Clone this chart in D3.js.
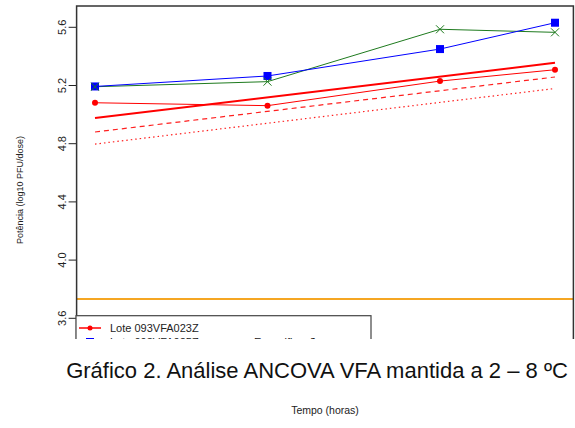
<!DOCTYPE html>
<html>
<head>
<meta charset="utf-8">
<script src="https://cdn.jsdelivr.net/npm/d3@7"></script>
<style>
  html, body { margin: 0; padding: 0; background: #fff; }
  svg { display: block; font-family: "Liberation Sans", Arial, sans-serif; }
</style>
</head>
<body>
<script>
// Sampling times (hours)
const times = [0, 3, 6, 8];

// Measured potency per lot (log10 PFU/dose)
const lot1 = [5.078, 5.058, 5.227, 5.305];   // Lote 093VFA023Z
const lot2 = [5.190, 5.262, 5.447, 5.628];   // second lot
const lot3 = [5.188, 5.223, 5.583, 5.562];   // third lot

// ANCOVA fit and lower bounds, given at first and last time
const fitTimes = [0, 8];
const fitLine = [4.973, 5.353];
const lowerConf = [4.877, 5.255];
const lowerPred = [4.794, 5.176];

// Specification limit
const specLimit = 3.73;

// Axis ticks
const yTicks = [3.6, 4.0, 4.4, 4.8, 5.2, 5.6];

const W = 575, H = 428;
const svg = d3.select("body").append("svg").attr("width", W).attr("height", H);

const x = d3.scaleLinear().domain([0, 8]).range([95, 555]);
const y = d3.scaleLinear().domain([3.6, 5.6]).range([317.8, 26.8]);

const plotLeft = x(-0.32), plotRight = x(8.32), plotTop = 6, clipBottom = 339;

svg.append("defs").append("clipPath").attr("id", "cut")
  .append("rect").attr("x", 0).attr("y", 0).attr("width", W).attr("height", clipBottom);
svg.append("defs").append("clipPath").attr("id", "plotArea")
  .append("rect").attr("x", plotLeft).attr("y", plotTop)
  .attr("width", plotRight - plotLeft).attr("height", 400);

const g = svg.append("g").attr("clip-path", "url(#cut)");

// Y axis with rotated tick labels
const yAxis = g.append("g").attr("transform", `translate(${plotLeft},0)`)
  .call(d3.axisLeft(y).tickValues(yTicks).tickFormat(d3.format(".1f")).tickSize(8).tickPadding(4));
yAxis.select(".domain").remove();
yAxis.selectAll(".tick line").attr("stroke", "#222");
yAxis.selectAll(".tick text")
  .attr("font-size", 11).attr("fill", "#222")
  .attr("text-anchor", "middle")
  .attr("x", null).attr("dy", null)
  .attr("transform", "translate(-15,0) rotate(-90)")
  .attr("dominant-baseline", "central");

const inner = g.append("g").attr("clip-path", "url(#plotArea)");

// Specification line
inner.append("line")
  .attr("x1", plotLeft).attr("x2", plotRight)
  .attr("y1", y(specLimit)).attr("y2", y(specLimit))
  .attr("stroke", "#f5a623").attr("stroke-width", 2);

// Regression line and lower bounds
const fitPts = arr => fitTimes.map((t, i) => [x(t), y(arr[i])]);
const line = d3.line();
inner.append("path").attr("d", line(fitPts(fitLine)))
  .attr("fill", "none").attr("stroke", "#ff0000").attr("stroke-width", 2);
inner.append("path").attr("d", line(fitPts(lowerConf)))
  .attr("fill", "none").attr("stroke", "#ff2020").attr("stroke-width", 1.2)
  .attr("stroke-dasharray", "5,4");
inner.append("path").attr("d", line(fitPts(lowerPred)))
  .attr("fill", "none").attr("stroke", "#ff2020").attr("stroke-width", 1.2)
  .attr("stroke-dasharray", "1.5,3");

// Lot series
const seriesPts = arr => times.map((t, i) => [x(t), y(arr[i])]);
inner.append("path").attr("d", line(seriesPts(lot1)))
  .attr("fill", "none").attr("stroke", "#ff0000").attr("stroke-width", 1);
inner.selectAll("circle.l1").data(seriesPts(lot1)).join("circle")
  .attr("cx", d => d[0]).attr("cy", d => d[1]).attr("r", 3).attr("fill", "#ff0000");

inner.append("path").attr("d", line(seriesPts(lot3)))
  .attr("fill", "none").attr("stroke", "#1e7a1e").attr("stroke-width", 1);
inner.append("path").attr("d", line(seriesPts(lot2)))
  .attr("fill", "none").attr("stroke", "#0000ff").attr("stroke-width", 1);
inner.selectAll("rect.l2").data(seriesPts(lot2)).join("rect")
  .attr("x", d => d[0] - 4).attr("y", d => d[1] - 4).attr("width", 8).attr("height", 8)
  .attr("fill", "#0000ff");
inner.selectAll("path.l3").data(seriesPts(lot3)).join("path")
  .attr("d", d => `M${d[0]-4},${d[1]-4}L${d[0]+4},${d[1]+4}M${d[0]-4},${d[1]+4}L${d[0]+4},${d[1]-4}`)
  .attr("stroke", "#1e7a1e").attr("stroke-width", 1);

// Plot frame
g.append("rect").attr("x", plotLeft).attr("y", plotTop)
  .attr("width", plotRight - plotLeft).attr("height", 400)
  .attr("fill", "none").attr("stroke", "#333").attr("stroke-width", 1.5);

// Legend
const lg = g.append("g");
lg.append("rect").attr("x", 76).attr("y", 315.7).attr("width", 295).attr("height", 60)
  .attr("fill", "#fff").attr("stroke", "#444").attr("stroke-width", 1.2);
const legendItems = [
  {label: "Lote 093VFA023Z", color: "#ff0000", mark: "circle", col: 0, row: 0},
  {label: "Lote 093VFA025Z", color: "#6f7fff", mark: "square", col: 0, row: 1},
  {label: "Especificação", color: "#ffc870", mark: "none", col: 1, row: 1}
];
legendItems.forEach(it => {
  const cx = 79 + it.col * 144, cy = 328 + it.row * 14;
  lg.append("line").attr("x1", cx).attr("x2", cx + 22).attr("y1", cy).attr("y2", cy)
    .attr("stroke", it.color).attr("stroke-width", it.mark === "none" ? 4 : 1.5);
  if (it.mark === "circle")
    lg.append("circle").attr("cx", cx + 11).attr("cy", cy).attr("r", 2.5).attr("fill", it.color);
  if (it.mark === "square")
    lg.append("rect").attr("x", cx + 7).attr("y", cy - 4).attr("width", 8).attr("height", 8).attr("fill", "#0000ff");
  lg.append("text").attr("x", cx + 31).attr("y", cy).attr("dominant-baseline", "central")
    .attr("font-size", 11).attr("fill", "#222").text(it.label);
});

// Y axis title
svg.append("text")
  .attr("transform", "translate(20,190) rotate(-90)")
  .attr("text-anchor", "middle").attr("dominant-baseline", "central")
  .attr("font-size", 9).attr("fill", "#222")
  .text("Potência (log10 PFU/dose)");

// Caption
svg.append("text").attr("x", 317).attr("y", 370)
  .attr("text-anchor", "middle").attr("dominant-baseline", "central")
  .attr("font-size", 22).attr("fill", "#111")
  .text("Gráfico 2. Análise ANCOVA VFA mantida a 2 – 8 ºC");

// X axis title
svg.append("text").attr("x", 325).attr("y", 410)
  .attr("text-anchor", "middle").attr("dominant-baseline", "central")
  .attr("font-size", 10.5).attr("fill", "#222")
  .text("Tempo (horas)");
</script>
</body>
</html>
